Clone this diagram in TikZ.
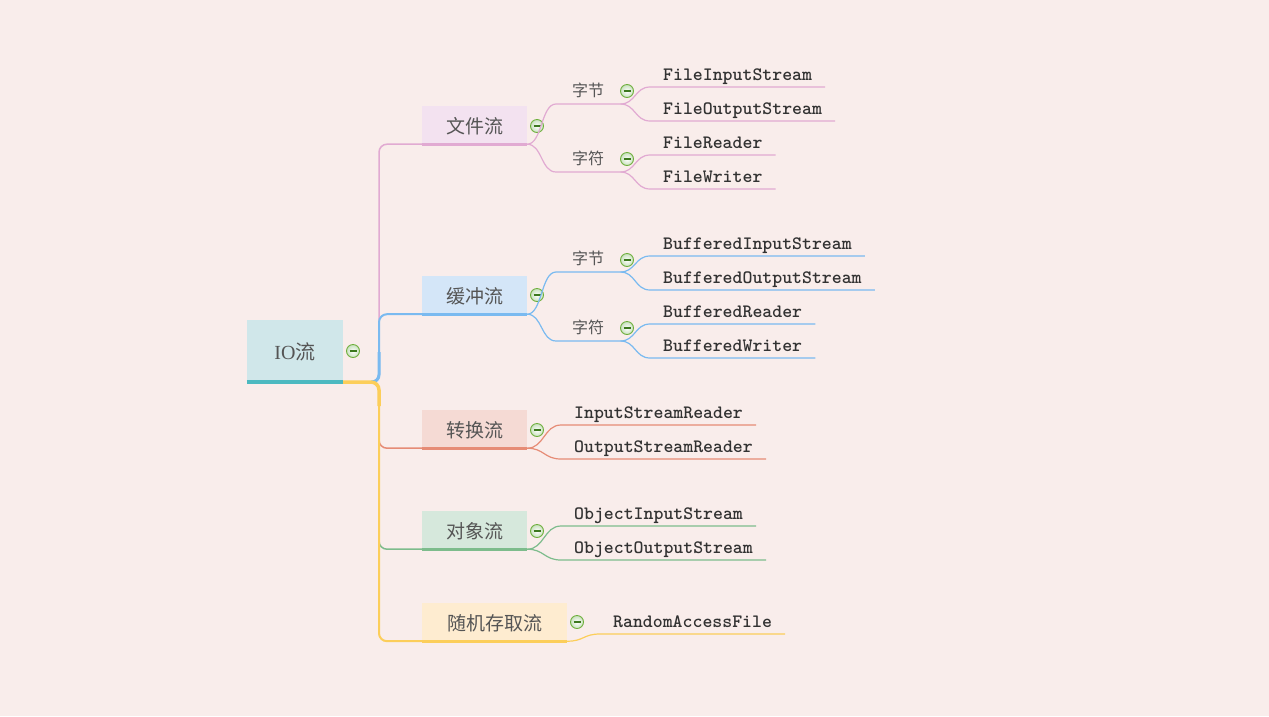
\documentclass[tikz,border=0pt]{standalone}
\usepackage{fontspec}
\setmainfont{Liberation Serif}
\newfontfamily\cjk{Noto Sans CJK SC}
\definecolor{bg}{RGB}{249,237,235}
\definecolor{txt}{RGB}{85,85,85}
\definecolor{leaftxt}{RGB}{50,50,50}
\definecolor{pinkl}{RGB}{225,170,210}
\definecolor{pinkf}{RGB}{243,226,240}
\definecolor{bluel}{RGB}{122,186,240}
\definecolor{bluef}{RGB}{212,230,248}
\definecolor{redl}{RGB}{230,140,118}
\definecolor{redf}{RGB}{245,218,212}
\definecolor{greenl}{RGB}{125,188,140}
\definecolor{greenf}{RGB}{214,232,220}
\definecolor{yell}{RGB}{252,206,90}
\definecolor{yelf}{RGB}{254,236,208}
\definecolor{rootf}{RGB}{208,231,234}
\definecolor{rootl}{RGB}{76,185,192}
\definecolor{collg}{RGB}{110,175,60}
\definecolor{collfill}{RGB}{200,225,190}
\definecolor{collm}{RGB}{60,120,30}
\begin{document}
\begin{tikzpicture}[x=1pt,y=-1pt,
  rootbox/.style={minimum width=96pt, minimum height=64pt, inner sep=0pt, fill=rootf, text=txt, font=\fontsize{20}{20}\selectfont},
  l1/.style={minimum width=105pt, minimum height=40pt, inner sep=0pt, fill=#1, text=txt, font=\cjk\fontsize{19}{19}\selectfont},
  sub/.style={anchor=south west, inner xsep=16pt, inner ysep=4pt, text height=12pt, text depth=3pt, minimum width=64pt, text=txt, font=\cjk\fontsize{16}{16}\selectfont},
  leaf/.style={anchor=south west, inner xsep=13pt, inner ysep=3pt, text height=11pt, text depth=3pt, text=leaftxt, font=\ttfamily\bfseries\fontsize{18.9}{18.9}\selectfont},
  uline/.style={line width=3.5pt, draw=#1},
  conn/.style={draw=#1, line width=1.2pt},
  coll/.style={circle, minimum size=13pt, inner sep=0pt, draw=collg, line width=0.9pt, inner color=white, outer color=collfill,
    path picture={\draw[collm, line width=1.2pt] ([xshift=-3.5pt]path picture bounding box.center) -- ([xshift=3.5pt]path picture bounding box.center);}}
]
\fill[bg] (0,0) rectangle (1269,716);
\useasboundingbox (0,0) rectangle (1269,716);

% root
\node[rootbox] (io) at (295,352) {IO{\cjk 流}};
\draw[uline=rootl, line width=4pt] ([yshift=2pt]io.south west) -- ([yshift=2pt]io.south east);
\node[coll] (cio) at (353,351) {};
\coordinate (trunk) at (379,382);

% level 1
\node[l1=pinkf] (file) at (474.5,126) {文件流};
\node[l1=bluef] (buf) at (474.5,296) {缓冲流};
\node[l1=redf] (conv) at (474.5,430) {转换流};
\node[l1=greenf] (obj) at (474.5,531) {对象流};
\node[l1=yelf, minimum width=145pt] (rand) at (494.5,623) {随机存取流};

% main connectors
\draw[conn=pinkl, line width=1.5pt, rounded corners=8pt] ([yshift=2pt]io.south east) -- (trunk) |- ([yshift=2pt]file.south west);
\draw[conn=redl, line width=1.5pt, rounded corners=8pt] ([yshift=2pt]io.south east) -- (trunk) |- ([yshift=2pt]conv.south west);
\draw[conn=greenl, line width=1.5pt, rounded corners=8pt] ([yshift=2pt]io.south east) -- (trunk) |- ([yshift=2pt]obj.south west);
\draw[conn=yell, line width=2pt, rounded corners=8pt] ([yshift=2pt]io.south east) -- (trunk) |- ([yshift=2pt]rand.south west);
\draw[conn=bluel, line width=2pt, rounded corners=8pt] ([yshift=2pt]io.south east) -- (trunk) |- ([yshift=2pt]buf.south west);
\draw[draw=bluel, line width=3pt, rounded corners=7pt] ([xshift=-8pt]trunk) -- (trunk) -- ++(0,-30);
\draw[draw=yell, line width=3.5pt, rounded corners=8pt] ([yshift=2pt]io.south east) -- (trunk) -- ++(0,24);

\draw[uline=pinkl] ([yshift=1.8pt]file.south west) -- ([yshift=1.8pt]file.south east);
\draw[uline=bluel] ([yshift=1.8pt]buf.south west) -- ([yshift=1.8pt]buf.south east);
\draw[uline=redl] ([yshift=1.8pt]conv.south west) -- ([yshift=1.8pt]conv.south east);
\draw[uline=greenl] ([yshift=1.8pt]obj.south west) -- ([yshift=1.8pt]obj.south east);
\draw[uline=yell] ([yshift=1.8pt]rand.south west) -- ([yshift=1.8pt]rand.south east);

\node[coll] (cfile) at (537,126) {};
\node[coll] (cbuf) at (537,295) {};
\node[coll] (cconv) at (537,430) {};
\node[coll] (cobj) at (537,531) {};
\node[coll] (crand) at (577,622) {};

% level 2 (file)
\node[sub] (fj) at (556,104) {字节};
\node[sub] (fc) at (556,172) {字符};
\node[coll] (cfj) at (627,91) {};
\node[coll] (cfc) at (627,159) {};
\draw[conn=pinkl] ([yshift=2pt]file.south east) .. controls +(15,0) and +(-15,0) .. (fj.south west) -- (fj.south east);
\draw[conn=pinkl] ([yshift=2pt]file.south east) .. controls +(15,0) and +(-15,0) .. (fc.south west) -- (fc.south east);

% level 2 (buffer)
\node[sub] (bj) at (556,272) {字节};
\node[sub] (bc) at (556,341) {字符};
\node[coll] (cbj) at (627,260) {};
\node[coll] (cbc) at (627,328) {};
\draw[conn=bluel] ([yshift=2pt]buf.south east) .. controls +(15,0) and +(-15,0) .. (bj.south west) -- (bj.south east);
\draw[conn=bluel] ([yshift=2pt]buf.south east) .. controls +(15,0) and +(-15,0) .. (bc.south west) -- (bc.south east);

% leaves (file)
\node[leaf] (fis) at (650,87) {FileInputStream};
\node[leaf] (fos) at (650,121) {FileOutputStream};
\node[leaf] (fr) at (650,155) {FileReader};
\node[leaf] (fw) at (650,189) {FileWriter};
\foreach \p/\c in {fj/fis, fj/fos, fc/fr, fc/fw}
  \draw[conn=pinkl] (\p.south east) .. controls +(15,0) and +(-15,0) .. (\c.south west) -- (\c.south east);

% leaves (buffer)
\node[leaf] (bis) at (650,256) {BufferedInputStream};
\node[leaf] (bos) at (650,290) {BufferedOutputStream};
\node[leaf] (br) at (650,324) {BufferedReader};
\node[leaf] (bw) at (650,358) {BufferedWriter};
\foreach \p/\c in {bj/bis, bj/bos, bc/br, bc/bw}
  \draw[conn=bluel] (\p.south east) .. controls +(15,0) and +(-15,0) .. (\c.south west) -- (\c.south east);

% leaves (conversion)
\node[leaf] (isr) at (561,425) {InputStreamReader};
\node[leaf] (osr) at (561,459) {OutputStreamReader};
\foreach \c in {isr, osr}
  \draw[conn=redl] ([yshift=2pt]conv.south east) .. controls +(17,0) and +(-17,0) .. (\c.south west) -- (\c.south east);

% leaves (object)
\node[leaf] (ois) at (561,526) {ObjectInputStream};
\node[leaf] (oos) at (561,560) {ObjectOutputStream};
\foreach \c in {ois, oos}
  \draw[conn=greenl] ([yshift=2pt]obj.south east) .. controls +(17,0) and +(-17,0) .. (\c.south west) -- (\c.south east);

% leaf (random)
\node[leaf] (raf) at (600,634) {RandomAccessFile};
\draw[conn=yell] ([yshift=2pt]rand.south east) .. controls +(17,0) and +(-17,0) .. (raf.south west) -- (raf.south east);
\end{tikzpicture}
\end{document}
